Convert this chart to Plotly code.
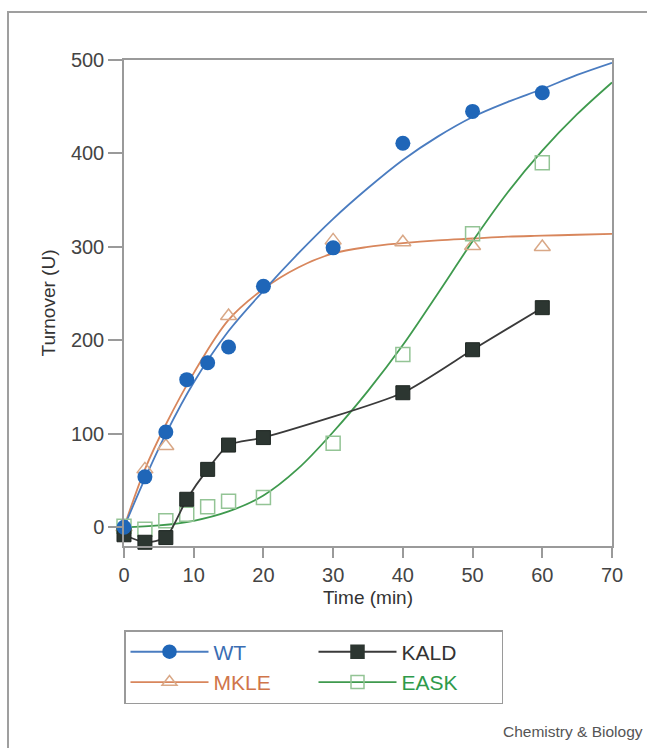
import plotly.graph_objects as go

# ---- data ----
time_wt = [0, 3, 6, 9, 12, 15, 20, 30, 40, 50, 60]
wt = [0, 54, 102, 158, 176, 193, 258, 299, 411, 445, 465]

time_mkle = [0, 3, 6, 15, 30, 40, 50, 60]
mkle = [0, 62, 87, 226, 307, 305, 301, 300]

time_kald = [0, 3, 6, 9, 12, 15, 20, 40, 50, 60]
kald = [-8, -16, -11, 30, 62, 88, 96, 144, 190, 235]

time_eask = [0, 3, 6, 9, 12, 15, 20, 30, 40, 50, 60]
eask = [1, -2, 7, 14, 22, 28, 32, 90, 185, 314, 390]

# fitted curves
fit_x_wt = [0, 3, 6, 10, 15, 20, 25, 30, 35, 40, 45, 50, 55, 60, 65, 70]
fit_wt = [0, 52, 100, 155, 210, 253, 293, 330, 363, 393, 418, 439, 455, 469, 484, 497]
fit_x_mkle = [0, 3, 6, 10, 15, 20, 25, 30, 35, 40, 45, 50, 55, 60, 65, 70]
fit_mkle = [0, 62, 110, 165, 222, 255, 278, 293, 300, 304, 307, 309, 311, 312, 313, 314]
fit_x_eask = [0, 5, 10, 15, 20, 25, 30, 35, 40, 45, 50, 55, 60, 65, 70]
fit_eask = [0, 2, 7, 17, 34, 63, 102, 146, 195, 250, 306, 358, 403, 442, 476]

x_ticks = [0, 10, 20, 30, 40, 50, 60, 70]
y_ticks = [0, 100, 200, 300, 400, 500]

# ---- styles ----
C_WT_M = "#1f66b8"
C_WT_L = "#4a7cc0"
C_MK = "#d8865c"
C_MK_M = "#d9a887"
C_KA = "#2c3631"
C_KA_L = "#3a3a3a"
C_EA = "#3f9a4e"
C_EA_M = "#93c495"
FONT = "Liberation Sans, Arial, sans-serif"

fig = go.Figure()

# fit lines
fig.add_trace(go.Scatter(x=fit_x_mkle, y=fit_mkle, mode="lines", line=dict(color=C_MK, width=1.8, shape="spline"),
                         showlegend=False, hoverinfo="skip"))
fig.add_trace(go.Scatter(x=fit_x_eask, y=fit_eask, mode="lines", line=dict(color=C_EA, width=1.8, shape="spline"),
                         showlegend=False, hoverinfo="skip"))
fig.add_trace(go.Scatter(x=fit_x_wt, y=fit_wt, mode="lines", line=dict(color=C_WT_L, width=1.8, shape="spline"),
                         showlegend=False, hoverinfo="skip"))

# markers
fig.add_trace(go.Scatter(x=time_mkle, y=mkle, mode="markers", cliponaxis=False, showlegend=False,
                         marker=dict(symbol="triangle-up-open", size=14, color=C_MK_M, line=dict(width=1.5, color=C_MK_M))))
fig.add_trace(go.Scatter(x=time_eask, y=eask, mode="markers", cliponaxis=False, showlegend=False,
                         marker=dict(symbol="square-open", size=14, color=C_EA_M, line=dict(width=1.5, color=C_EA_M))))
fig.add_trace(go.Scatter(x=time_kald, y=kald, mode="lines+markers", cliponaxis=False, showlegend=False,
                         line=dict(color=C_KA_L, width=1.8, shape="spline", smoothing=0.6),
                         marker=dict(symbol="square", size=14, color=C_KA, line=dict(width=1, color="#1e2622"))))
fig.add_trace(go.Scatter(x=time_wt, y=wt, mode="markers", cliponaxis=False, showlegend=False,
                         marker=dict(symbol="circle", size=15, color=C_WT_M)))

# legend entries
def leg(name, color, lcolor, sym, mcolor, rank):
    fig.add_trace(go.Scatter(x=[None], y=[None], mode="lines+markers", legendrank=rank,
                             name=f'<span style="color:{color}">{name}</span>',
                             line=dict(color=lcolor, width=1.8),
                             marker=dict(symbol=sym, size=13, color=mcolor, line=dict(width=1.5, color=mcolor))))

leg("WT", "#3a6db3", C_WT_L, "circle", C_WT_M, 1)
leg("KALD", "#333333", C_KA_L, "square", C_KA, 2)
leg("MKLE", "#d0754a", C_MK, "triangle-up-open", C_MK_M, 3)
leg("EASK", "#2e9a4a", C_EA, "square-open", C_EA_M, 4)

axis_common = dict(showline=True, linecolor="#9a9a9a", linewidth=1.5, mirror=True, ticks="outside",
                   tickcolor="#9a9a9a", tickwidth=1.5, showgrid=False, zeroline=False,
                   tickfont=dict(family=FONT, size=20, color="#444444"))

fig.update_layout(
    width=647, height=748, autosize=False,
    margin=dict(l=124, r=35, t=60, b=202),
    paper_bgcolor="white", plot_bgcolor="white",
    font=dict(family=FONT, color="#444444"),
    xaxis=dict(range=[0, 70], tickvals=x_ticks, ticktext=[str(v) for v in x_ticks], ticklen=10,
               title=dict(text="Time (min)", font=dict(family=FONT, size=19, color="#333333"), standoff=6),
               **axis_common),
    yaxis=dict(range=[-20, 500], tickvals=y_ticks, ticktext=[str(v) for v in y_ticks], ticklen=14,
               title=dict(text="Turnover (U)", font=dict(family=FONT, size=19, color="#333333"), standoff=10),
               **axis_common),
    legend=dict(orientation="h", x=0, y=-0.173, xanchor="left", yanchor="top",
                bordercolor="#9a9a9a", borderwidth=1.5, bgcolor="white",
                font=dict(family=FONT, size=21), entrywidth=95, itemwidth=78,
                traceorder="normal"),
    showlegend=True,
    shapes=[dict(type="rect", xref="paper", yref="paper", x0=-0.2377, x1=1.2, y0=-0.6, y1=1.0988,
                 line=dict(color="#9f9f9f", width=2), layer="below")],
    annotations=[dict(text="Chemistry & Biology", xref="paper", yref="paper", x=1.068, y=-0.3827,
                      xanchor="right", yanchor="middle", showarrow=False,
                      font=dict(family=FONT, size=15.5, color="#555555"))],
)

fig.write_html("out.html")
